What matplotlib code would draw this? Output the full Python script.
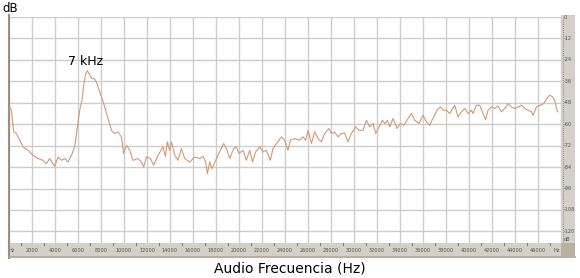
import matplotlib
matplotlib.use("Agg")
import matplotlib.pyplot as plt
from matplotlib.lines import Line2D
import numpy as np

# spectrum (Hz, dB)
freq_hz = [60, 210, 410, 640, 930, 1220, 1650, 2090, 2520, 2960, 3250, 3540, 3970,
           4260, 4560, 4840, 5130, 5430, 5710, 5950, 6150, 6350, 6500, 6640, 6820,
           7020, 7220, 7390, 7600, 7830, 8090, 8320, 8610, 8930, 9190, 9480, 9770,
           9970, 10210, 10500, 10780, 11220, 11510, 11710, 11950, 12300, 12580,
           12960, 13390, 13600, 13770, 13970, 14120, 14410, 14700, 14990, 15280,
           15710, 16150, 16580, 16870, 17100, 17250, 17450, 17650, 18040, 18320,
           18670, 18960, 19190, 19540, 19770, 20000, 20350, 20640, 20930, 21170,
           21450, 21800, 22090, 22380, 22730, 22960, 23250, 23690, 23980, 24260,
           24470, 24850, 25280, 25570, 25800, 26000, 26300, 26580, 26870, 27170,
           27450, 27830, 28040, 28320, 28610, 28910, 29190, 29480, 29770, 30150,
           30440, 30780, 31080, 31370, 31650, 31890, 32180, 32470, 32670, 32910,
           33110, 33390, 33740, 34040, 34320, 34610, 34990, 35280, 35650, 36000,
           36300, 36580, 36930, 37220, 37510, 37740, 38040, 38320, 38760, 39050,
           39340, 39630, 39920, 40210, 40350, 40650, 40930, 41220, 41450, 41650,
           41950, 42240, 42520, 42820, 43110, 43390, 43690, 43980, 44260, 44560,
           44850, 45130, 45430, 45570, 45860, 46210, 46500, 46780, 47020, 47250,
           47450, 47650, 47740]
level_db = [-50.3, -52.2, -64.3, -65.2, -69.0, -72.7, -74.6, -77.4, -79.2, -80.2,
            -82.1, -79.2, -83.6, -78.4, -80.2, -79.2, -81.2, -77.4, -72.7, -61.5,
            -52.2, -46.6, -38.1, -32.5, -30.0, -32.5, -34.5, -34.4, -36.3, -40.9,
            -45.6, -50.3, -56.8, -63.7, -65.2, -64.3, -67.1, -76.4, -71.8, -74.6,
            -80.2, -79.2, -81.2, -84.0, -78.4, -79.2, -83.0, -77.4, -72.7, -78.0,
            -69.9, -74.6, -69.9, -77.4, -80.2, -73.6, -79.2, -81.2, -78.4, -79.2,
            -78.0, -81.2, -87.7, -81.2, -84.9, -79.2, -75.5, -70.8, -74.6, -79.2,
            -73.6, -72.7, -76.4, -74.6, -80.2, -74.6, -81.2, -75.5, -72.7, -75.5,
            -74.6, -80.2, -73.6, -70.8, -67.1, -69.0, -74.6, -69.0, -68.0, -69.0,
            -67.1, -69.0, -63.4, -70.8, -64.3, -68.0, -69.9, -65.2, -62.4, -65.2,
            -64.3, -67.1, -65.2, -64.9, -69.9, -65.2, -61.5, -63.4, -63.4, -57.8,
            -61.5, -59.6, -65.2, -61.5, -57.8, -59.6, -57.8, -61.5, -56.8, -62.4,
            -59.6, -60.6, -57.8, -54.0, -57.8, -59.6, -55.0, -58.7, -60.6, -55.9,
            -52.2, -50.3, -52.2, -52.2, -54.0, -49.4, -55.9, -53.1, -51.2, -54.0,
            -52.2, -54.0, -49.4, -49.4, -54.0, -57.4, -52.2, -50.3, -51.2, -49.9,
            -53.1, -51.2, -48.4, -50.3, -51.2, -50.3, -49.4, -51.2, -52.2, -53.1,
            -55.0, -50.3, -49.4, -48.4, -45.6, -43.7, -44.7, -46.6, -52.2, -53.1]

x_ticks = list(range(0, 48001, 2000))
x_tick_labels = ["Hz"] + [str(v) for v in range(2000, 46001, 2000)] + ["Hz"]
y_ticks = list(range(0, -121, -12))

W, H = 580, 278
X_MAX = 48000
Y_MIN, Y_MAX = -126.5, 0.0
PANEL = "#d4d0c8"

fig = plt.figure(figsize=(W / 100, H / 100), dpi=100)


def box(x0, y0, x1, y1):
    # pixel box (top-left origin) -> figure fraction rect
    return [x0 / W, 1 - y1 / H, (x1 - x0) / W, (y1 - y0) / H]


ax = fig.add_axes(box(9, 17, 561, 243))
ax.plot(freq_hz, level_db, color="#d09a76", lw=0.8)
ax.set_xlim(0, X_MAX)
ax.set_ylim(Y_MIN, Y_MAX)
ax.set_xticks(x_ticks)
ax.set_yticks(y_ticks)
ax.grid(True, color="#cdcdcd", lw=1.0)
ax.tick_params(length=0, labelbottom=False, labelleft=False)
for s in ax.spines.values():
    s.set_visible(False)
ax.text(6700, -24.7, "7 kHz", ha="center", va="center", fontsize=9)

# bottom frequency strip
strip = fig.add_axes(box(9, 243, 575, 256))
strip.set_facecolor(PANEL)
strip.set_xlim(0, X_MAX * (575 - 9) / (561 - 9))
strip.set_ylim(0, 1)
strip.set_xticks([])
strip.set_yticks([])
for s in strip.spines.values():
    s.set_visible(False)
for v, lab in zip(x_ticks, x_tick_labels):
    pos = v + (250 if v == 0 else -350 if v == X_MAX else 0)
    strip.text(pos, 0.45, lab, ha="center", va="center", fontsize=3.6,
               color="#505050")
for v in range(1000, 48000, 2000):
    strip.plot([v, v], [0.82, 1.0], color="#606060", lw=0.6)

# right dB panel
panel = fig.add_axes(box(561, 15, 575, 256))
panel.set_facecolor(PANEL)
panel.set_xlim(0, 1)
panel.set_ylim(Y_MIN - 13 / 1.783, 2 / 1.783)
panel.set_xticks([])
panel.set_yticks([])
for s in panel.spines.values():
    s.set_visible(False)
panel.plot([0.12, 0.12], [Y_MIN, 0], color="#707070", lw=0.6, ls=(0, (1, 1.5)))
for v in y_ticks:
    panel.text(0.2, v, str(v), ha="left", va="center", fontsize=3.6,
               color="#505050")
panel.text(0.2, Y_MIN + 2, "dB", ha="left", va="center", fontsize=3.6,
           color="#505050")

# darker corner and edges
corner = fig.add_axes(box(561, 243, 575, 256))
corner.set_facecolor("#b8b0a0")
corner.set_xticks([])
corner.set_yticks([])
for s in corner.spines.values():
    s.set_visible(False)

fig.add_artist(Line2D([8.5 / W, 8.5 / W], [1 - 15 / H, 1 - 258 / H],
                      color="#9c8f7c", lw=1.5))
fig.add_artist(Line2D([9 / W, 575 / W], [1 - 257 / H, 1 - 257 / H],
                      color="#a8a090", lw=1.2))

fig.text(2 / W, 1 - 8 / H, "dB", ha="left", va="center", fontsize=8.5)
fig.text(290 / W, 1 - 268 / H, "Audio Frecuencia (Hz)", ha="center",
         va="center", fontsize=10)

fig.savefig("out.png", dpi=100)
